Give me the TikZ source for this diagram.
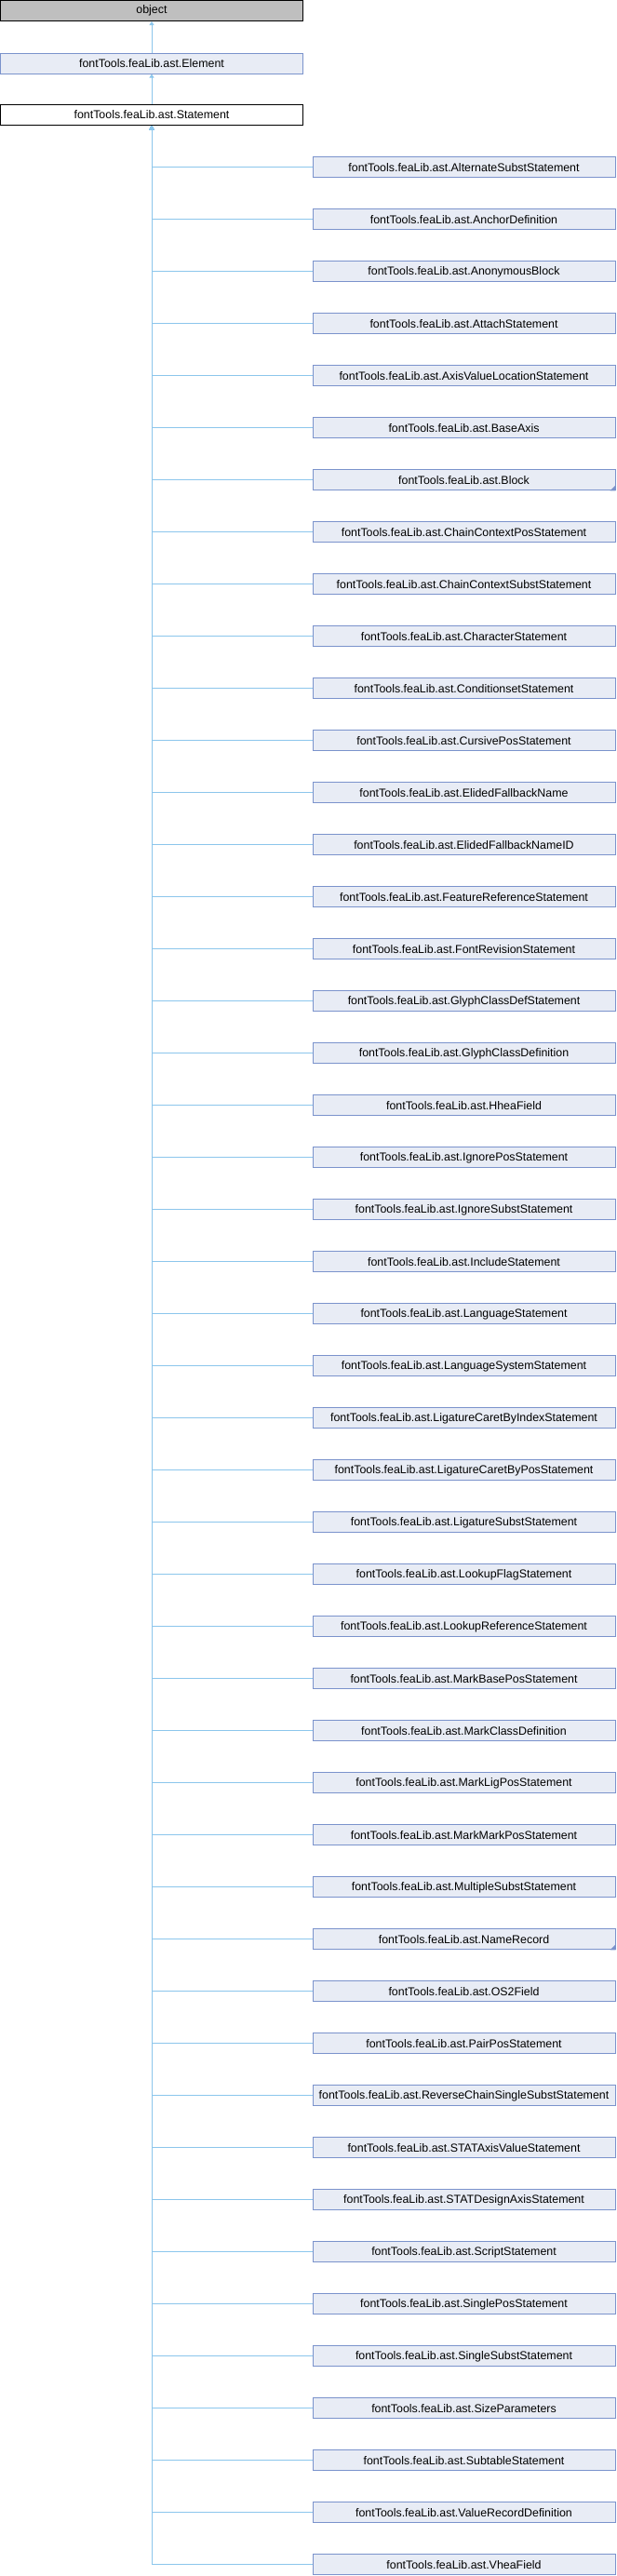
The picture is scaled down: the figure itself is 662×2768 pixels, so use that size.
\documentclass[tikz,border=0pt]{standalone}
\usepackage{fontspec}
\setmainfont{Liberation Sans}
\usetikzlibrary{arrows.meta}
\definecolor{boxfill}{HTML}{E8ECF5}
\definecolor{boxline}{HTML}{7B93CC}
\definecolor{edgeblue}{HTML}{8CC6EC}
\definecolor{rootgray}{HTML}{BFBFBF}
\begin{document}
\begin{tikzpicture}[x=1pt,y=-1pt,
    cls/.style={draw=boxline,fill=boxfill,line width=1pt,minimum width=325pt,
      minimum height=22pt,inner sep=0pt,font=\fontsize{12.4}{14}\selectfont},
    edge/.style={draw=edgeblue,line width=1pt,{Triangle[length=4pt,width=5pt]}-}]
    \useasboundingbox (0,0) rectangle (662,2768);

    % 绘制顶部三个类
    \node[cls,draw=black,fill=rootgray] (obj) at (163,11.5) {object};
    \node[cls] (el) at (163,68) {fontTools.feaLib.ast.Element};
    \node[cls,draw=black,fill=white] (st) at (163,123.5) {fontTools.feaLib.ast.Statement};

    % 绘制继承箭头
    \draw[edge] (obj.south) -- (el.north);
    \draw[edge] (el.south) -- (st.north);

    % 绘制所有子类及连接线
    \foreach \name [count=\i] in {AlternateSubstStatement,AnchorDefinition,
        AnonymousBlock,AttachStatement,AxisValueLocationStatement,BaseAxis,Block,
        ChainContextPosStatement,ChainContextSubstStatement,CharacterStatement,
        ConditionsetStatement,CursivePosStatement,ElidedFallbackName,
        ElidedFallbackNameID,FeatureReferenceStatement,FontRevisionStatement,
        GlyphClassDefStatement,GlyphClassDefinition,HheaField,IgnorePosStatement,
        IgnoreSubstStatement,IncludeStatement,LanguageStatement,
        LanguageSystemStatement,LigatureCaretByIndexStatement,
        LigatureCaretByPosStatement,LigatureSubstStatement,LookupFlagStatement,
        LookupReferenceStatement,MarkBasePosStatement,MarkClassDefinition,
        MarkLigPosStatement,MarkMarkPosStatement,MultipleSubstStatement,NameRecord,
        OS2Field,PairPosStatement,ReverseChainSingleSubstStatement,
        STATAxisValueStatement,STATDesignAxisStatement,ScriptStatement,
        SinglePosStatement,SingleSubstStatement,SizeParameters,SubtableStatement,
        ValueRecordDefinition,VheaField} {
      \node[cls] (c\i) at (498.5,{179.8+56*(\i-1)}) {fontTools.feaLib.ast.\name};
      \draw[edge] (st.south) |- (c\i.west);
    }

    % 绘制右下角的小三角
    \fill[boxline] (c7.south east) -- ++(-6,0) -- ++(6,-6) -- cycle;
    \fill[boxline] (c35.south east) -- ++(-6,0) -- ++(6,-6) -- cycle;

\end{tikzpicture}
\end{document}
